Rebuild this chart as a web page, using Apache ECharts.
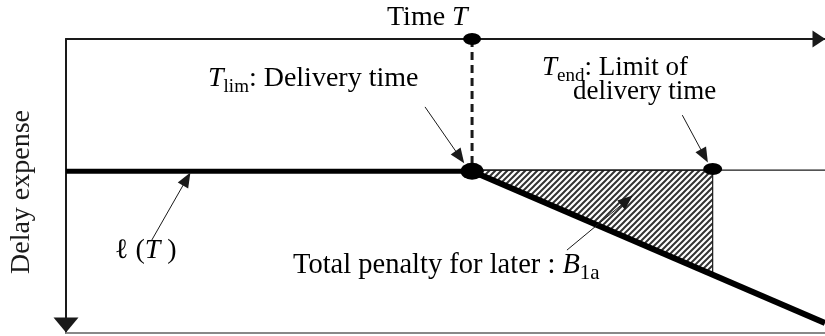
<!DOCTYPE html>
<html>
<head>
<meta charset="utf-8">
<script src="https://cdn.jsdelivr.net/npm/echarts@6/dist/echarts.min.js"></script>
<style>
html, body { margin: 0; padding: 0; background: #fff; }
#chart { width: 825px; height: 336px; }
</style>
</head>
<body>
<div id="chart"></div>
<script>
// diagram values: time on x (0..100), delay expense downward on y (0..100)
var levelLine = [[0, 45], [53.5, 45]];
var penaltyLine = [[53.5, 45], [100, 96.6]];
var limitLine = [[53.5, 44.6], [100, 44.6]];
var deliveryDash = [[53.5, 0], [53.5, 45]];
var hatchArea = [[53.5, 44.6], [85.2, 44.6], [85.2, 80.2]];
var dots = [[53.5, 0], [53.5, 45], [85.2, 44.2]];
var pointerArrows = [
    [[11.3, 68.4], [15.9, 47.6]],
    [[47.3, 23.1], [51.9, 40.2]],
    [[81.2, 25.9], [84.1, 39.8]],
    [[66.0, 71.8], [73.9, 54.9]]
];

var dotSizes = [[18, 12], [23, 17], [19, 12]];
var serif = 'Liberation Serif';
var ink = '#1a1a1a';

// hatch pattern for the penalty area
var hatch = document.createElement('canvas');
hatch.width = 6;
hatch.height = 6;
var hc = hatch.getContext('2d');
hc.strokeStyle = '#333';
hc.lineWidth = 2;
hc.beginPath();
hc.moveTo(-1, 7); hc.lineTo(7, -1);
hc.moveTo(-4, 4); hc.lineTo(4, -4);
hc.moveTo(2, 10); hc.lineTo(10, 2);
hc.stroke();

function richFor(size, subSize) {
    return {
        n: { fontFamily: serif, fontSize: size, lineHeight: 36, color: ink },
        it: { fontFamily: serif, fontSize: size, lineHeight: 36, fontStyle: 'italic', color: ink },
        sub: { fontFamily: serif, fontSize: subSize || 19, lineHeight: 19, verticalAlign: 'bottom', color: ink }
    };
}

function label(x, y, text, size, subSize) {
    return {
        type: 'text', x: x, y: y, silent: true,
        style: { text: text, rich: richFor(size, subSize), verticalAlign: 'middle', align: 'left' }
    };
}

var myChart = echarts.init(document.getElementById('chart'));

var option = {
    animation: false,
    backgroundColor: '#fff',
    grid: { left: 66, top: 39, right: 0, bottom: 3 },
    xAxis: [{
        type: 'value', position: 'top', min: 0, max: 100,
        axisLine: {
            show: true, onZero: false,
            lineStyle: { color: ink, width: 2 },
            symbol: ['none', 'triangle'],
            symbolSize: [17, 13],
            symbolOffset: [0, -6]
        },
        axisTick: { show: false },
        axisLabel: { show: false },
        splitLine: { show: false }
    }, {
        type: 'value', position: 'bottom', min: 0, max: 100,
        axisLine: { show: true, onZero: false, lineStyle: { color: '#888', width: 2 } },
        axisTick: { show: false },
        axisLabel: { show: false },
        splitLine: { show: false }
    }],
    yAxis: {
        type: 'value', inverse: true, min: 0, max: 100,
        axisLine: {
            show: true, onZero: false,
            lineStyle: { color: ink, width: 2 },
            symbol: ['triangle', 'none'],
            symbolSize: [25, 15],
            symbolOffset: [8, 0]
        },
        axisTick: { show: false },
        axisLabel: { show: false },
        splitLine: { show: false }
    },
    series: [{
        name: 'penalty area',
        type: 'custom',
        silent: true,
        renderItem: function (params, api) {
            var pts = hatchArea.map(function (p) { return api.coord(p); });
            return {
                type: 'polygon',
                shape: { points: pts },
                style: {
                    fill: { image: hatch, repeat: 'repeat' },
                    stroke: ink,
                    lineWidth: 1.2
                }
            };
        },
        data: [0]
    }, {
        name: 'limit',
        type: 'line',
        data: limitLine,
        symbol: 'none',
        lineStyle: { color: ink, width: 1.3 }
    }, {
        name: 'delivery',
        type: 'line',
        data: deliveryDash,
        symbol: 'none',
        lineStyle: { color: ink, width: 3, type: [8, 5] }
    }, {
        name: 'level',
        type: 'line',
        data: levelLine,
        symbol: 'none',
        lineStyle: { color: '#000', width: 5 },
        markLine: {
            silent: true,
            symbol: ['none', 'triangle'],
            symbolSize: [12, 15],
            label: { show: false },
            lineStyle: { color: ink, width: 1, type: 'solid' },
            data: pointerArrows.map(function (a) {
                return [{ coord: a[0] }, { coord: a[1] }];
            })
        }
    }, {
        name: 'penalty',
        type: 'line',
        data: penaltyLine,
        symbol: 'none',
        clip: false,
        lineStyle: { color: '#000', width: 6 }
    }, {
        name: 'times',
        type: 'scatter',
        data: dots,
        symbol: 'circle',
        symbolSize: function (v, p) { return dotSizes[p.dataIndex]; },
        itemStyle: { color: '#000', opacity: 1 },
        z: 5
    }],
    graphic: [
        label(387, 18, '{n|Time }{it|T}', 28),
        label(208, 79, '{it|T}{sub|lim}{n|: Delivery time}', 28),
        label(542, 68, '{it|T}{sub|end}{n|: Limit of}', 27),
        label(573, 92, '{n|delivery time}', 27),
        label(115, 251, '{n|\u2113 (}{it|T}{n| )}', 28),
        label(293, 266, '{n|Total penalty for later : }{it|B}{sub|1a}', 28.5, 21),
        {
            type: 'text', x: 22, y: 192, rotation: Math.PI / 2, silent: true,
            style: {
                text: 'Delay expense', fontFamily: serif, fontSize: 28,
                fill: ink, align: 'center', verticalAlign: 'middle'
            }
        }
    ]
};

myChart.setOption(option);

window.onresize = function () {
    myChart.resize();
};
</script>
</body>
</html>
